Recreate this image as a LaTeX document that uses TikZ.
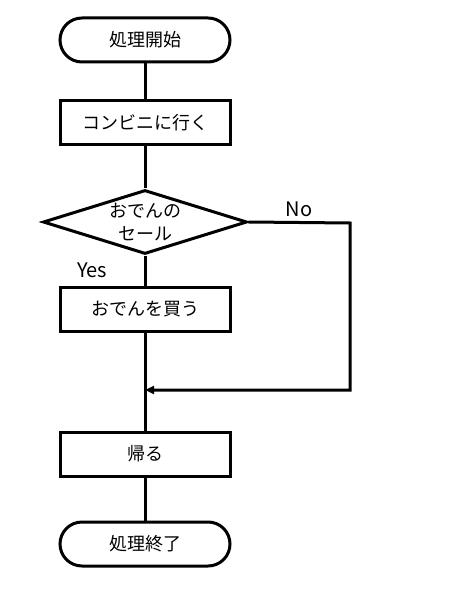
\documentclass[tikz,border=0pt]{standalone}
\usepackage{fontspec}
\setmainfont{Noto Sans CJK JP}
\usetikzlibrary{positioning,arrows.meta,shapes.geometric}

\begin{document}
\begin{tikzpicture}[x=1pt, y=-1pt, node distance=36pt,
			font=\fontsize{18}{23}\selectfont,
			term/.style={draw, line width=3pt, rounded corners=22pt, minimum width=170pt, minimum height=44pt},
			proc/.style={draw, line width=3pt, minimum width=170pt, minimum height=44pt},
			decision/.style={draw, diamond, line width=3pt, minimum width=204pt, minimum height=64pt, inner sep=0pt},
			line/.style={line width=3pt},
			tag/.style={font=\fontsize{20}{24}\selectfont},
			arrow/.style={line width=3pt, -{Triangle[length=9pt,width=8pt]}}]
			
			\useasboundingbox (0,0) rectangle (462,601);
			
			\node[term] (start) at (145,40) {処理開始};
			\node[proc, below=36pt of start] (go) {コンビニに行く};
			\node[decision, below=42pt of go, label={[align=center]center:おでんの\\セール}] (sale) {};
			\node[proc, below=30pt of sale] (buy) {おでんを買う};
			\node[proc, below=98pt of buy] (home) {帰る};
			\node[term, below=43pt of home] (end) {処理終了};
			
			\coordinate (noturn) at (350,223);
			\coordinate (nodown) at (350,390);
			\coordinate (merge) at (buy.south |- nodown);
			
			\draw[line] (start) -- (go);
			\draw[line] (go) -- (sale);
			\draw[line] (sale) -- node[tag, left=33pt]{Yes} (buy);
			\draw[line] (buy) -- (home);
			\draw[line] (home) -- (end);
			\draw[arrow] (sale.east) -- node[tag, above=1pt]{No} (noturn) -- (nodown) -- (merge);
			
		\end{tikzpicture}
\end{document}
